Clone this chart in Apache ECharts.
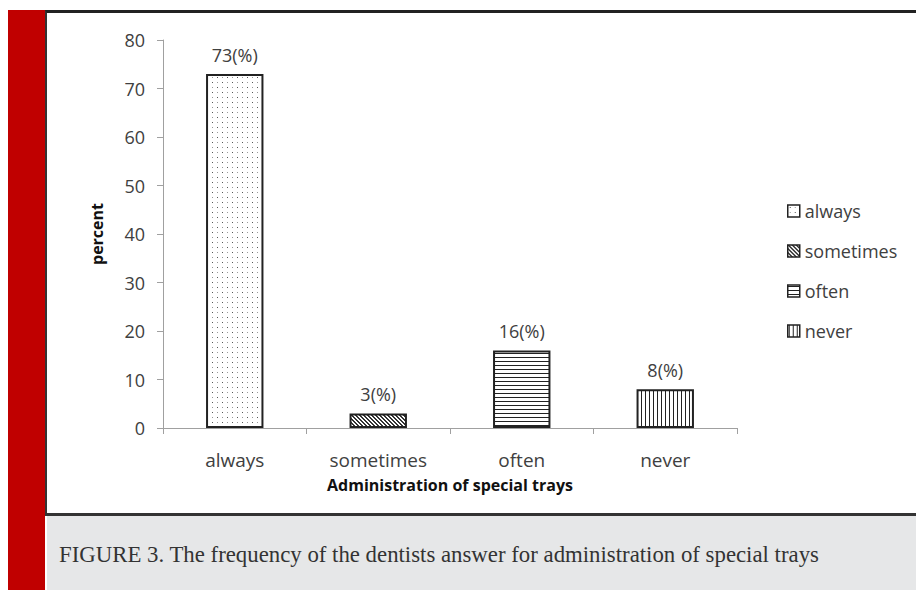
<!DOCTYPE html>
<html>
<head>
<meta charset="utf-8">
<script src="https://cdn.jsdelivr.net/npm/echarts@6/dist/echarts.min.js"></script>
<style>
  html, body { margin: 0; padding: 0; background: #ffffff; }
  #page { position: relative; width: 916px; height: 590px; overflow: hidden; }
  #stripe { position: absolute; left: 8px; top: 10px; width: 37px; height: 580px; background: #c00000; }
  #frame { position: absolute; left: 45px; top: 10px; width: 871px; height: 500px;
           border-top: 3px solid #222; border-left: 2px solid #333; border-bottom: 3px solid #333;
           background: #ffffff; box-sizing: content-box; }
  #caption { position: absolute; left: 47px; top: 516px; width: 869px; height: 74px; background: #e6e7e8;
             font-family: "Liberation Serif", "DejaVu Serif", serif; font-size: 22.8px; color: #333;
             line-height: 78px; padding-left: 12px; box-sizing: border-box; white-space: nowrap; }
  #chart { position: absolute; left: 0; top: 0; width: 916px; height: 590px; }
</style>
</head>
<body>
<div id="page">
  <div id="stripe"></div>
  <div id="frame"></div>
  <div id="caption">FIGURE 3. The frequency of the dentists answer for administration of special trays</div>
  <div id="chart"></div>
</div>
<script>
// Answer categories and the share of dentists (percent) giving each answer
const categories = ['always', 'sometimes', 'often', 'never'];
const percents = [73, 3, 16, 8];
const yTicks = { min: 0, max: 80, step: 10 };
const axisTitleX = 'Administration of special trays';
const axisTitleY = 'percent';

// Small tiled fills used for each bar
function tile(w, h, draw) {
  const c = document.createElement('canvas');
  c.width = w; c.height = h;
  const g = c.getContext('2d');
  g.fillStyle = '#ffffff';
  g.fillRect(0, 0, w, h);
  draw(g);
  return { image: c.toDataURL(), repeat: 'repeat' };
}
const fills = [
  tile(10, 10, g => { g.fillStyle = '#555'; g.fillRect(2, 2, 1, 1); g.fillRect(7, 7, 1, 1); g.fillStyle = '#999'; g.fillRect(7, 2, 1, 1); g.fillRect(2, 7, 1, 1); }),
  tile(4, 4, g => {
    g.fillStyle = '#333';
    for (let i = 0; i < 4; i++) { g.fillRect(i, i, 1, 1); g.fillRect((i + 1) % 4, i, 1, 1); }
  }),
  tile(4, 4, g => { g.fillStyle = '#222'; g.fillRect(0, 1, 4, 1); }),
  tile(4, 4, g => { g.fillStyle = '#222'; g.fillRect(1, 0, 1, 4); })
];

const textColor = '#404040';
const fontFam = '"Open Sans", Lato, sans-serif';

const series = categories.map((name, i) => ({
  name: name,
  type: 'bar',
  stack: 'all',
  barWidth: '40%',
  data: categories.map((_, j) => (j === i ? percents[i] : '-')),
  itemStyle: { color: fills[i], borderColor: '#222', borderWidth: 2 },
  label: {
    show: true, position: 'top', distance: 10,
    formatter: p => p.value + '(%)',
    fontFamily: fontFam, fontSize: 18, color: textColor
  }
}));

const chart = echarts.init(document.getElementById('chart'), null, { renderer: 'svg' });
chart.setOption({
  backgroundColor: 'transparent',
  animation: false,
  grid: { left: 163, right: 179, top: 40, bottom: 162, containLabel: false },
  xAxis: {
    type: 'category',
    data: categories,
    name: axisTitleX,
    nameLocation: 'middle',
    nameGap: 49,
    nameTextStyle: { fontFamily: fontFam, fontWeight: 'bold', fontSize: 16, color: '#111' },
    axisLine: { lineStyle: { color: '#a0a0a0', width: 1 } },
    axisTick: { show: true, length: 6, lineStyle: { color: '#a0a0a0' } },
    axisLabel: { fontFamily: fontFam, fontSize: 19, color: textColor, margin: 22 }
  },
  yAxis: {
    type: 'value',
    min: yTicks.min, max: yTicks.max, interval: yTicks.step,
    name: axisTitleY,
    nameLocation: 'middle',
    nameGap: 58,
    nameRotate: 90,
    nameTextStyle: { fontFamily: fontFam, fontWeight: 'bold', fontSize: 16, color: '#111' },
    axisLine: { show: true, lineStyle: { color: '#a0a0a0', width: 1 } },
    axisTick: { show: true, length: 6, lineStyle: { color: '#a0a0a0' } },
    splitLine: { show: false },
    axisLabel: { fontFamily: fontFam, fontSize: 18, color: textColor, margin: 18 }
  },
  legend: {
    orient: 'vertical',
    left: 782, top: 195,
    itemWidth: 12, itemHeight: 12,
    itemGap: 18,
    icon: 'rect',
    itemStyle: { borderColor: '#222', borderWidth: 1.5 },
    textStyle: { fontFamily: fontFam, fontSize: 18, lineHeight: 22, color: textColor, padding: [0, 0, 0, 0] },
    data: categories
  },
  series: series
});
</script>
</body>
</html>
